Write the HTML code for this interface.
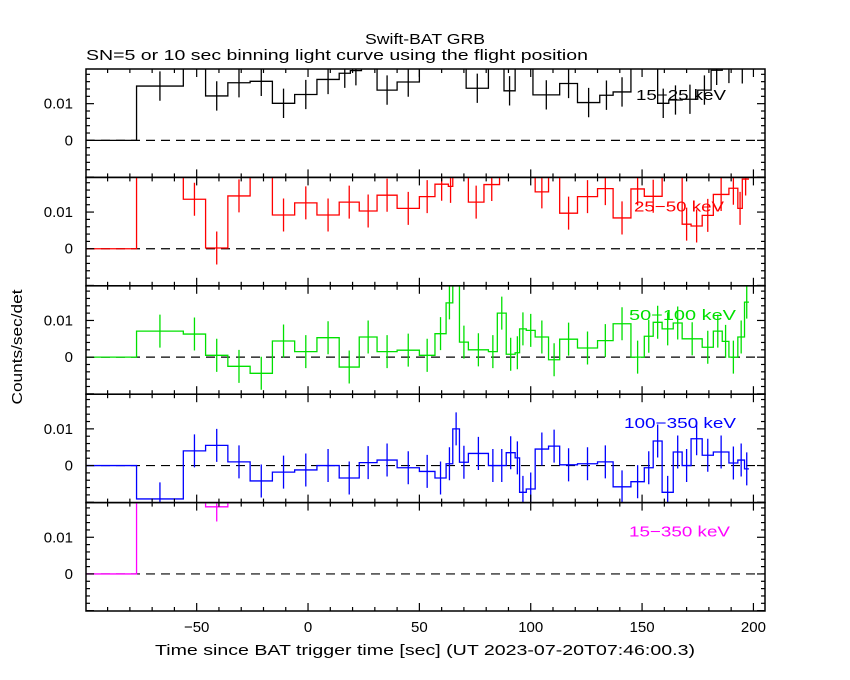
<!DOCTYPE html>
<html><head><meta charset="utf-8"><style>
body{margin:0;background:#fff;}
svg{display:block;font-family:"Liberation Sans",sans-serif;}
</style></head><body>
<svg id="chart" width="850" height="680" viewBox="0 0 850 680" xmlns="http://www.w3.org/2000/svg">
<text x="365" y="44" font-size="15" textLength="120" lengthAdjust="spacingAndGlyphs">Swift-BAT GRB</text>
<text x="86" y="60" font-size="15" textLength="502" lengthAdjust="spacingAndGlyphs">SN=5 or 10 sec binning light curve using the flight position</text>
<text x="155" y="655" font-size="15" textLength="540" lengthAdjust="spacingAndGlyphs">Time since BAT trigger time [sec] (UT 2023-07-20T07:46:00.3)</text>
<text x="0" y="0" font-size="15" text-anchor="middle" textLength="115" lengthAdjust="spacingAndGlyphs" transform="translate(22,347) rotate(-90)">Counts/sec/det</text>
<g id="plots"></g>
</svg>
<script>
// data (values in units of 0.001 counts/sec/det)
const bandLabels = ["15\u221225 keV","25\u221250 keV","50\u2212100 keV","100\u2212350 keV","15\u2212350 keV"];
const bandColors = ["#000000","#ff0000","#00e000","#0000ff","#ff00ff"];
const xTicks = [-50,0,50,100,150,200];
const yTickLabels = ["0.01","0"];
const edges1 = [-77,-56,-46,-36,-26,-16,-6,4,14,19,24,31,40,50,71,81,88,93,101,113,121,131,137,145,151,157,162,168,175,181,186,192,198];
const vals1 = [14.8,25,12.1,15.7,16.1,10.1,12.5,16.6,18.3,19,25,13.7,15.9,25,14.2,25,13.5,25,12.4,15.5,10.3,12.3,13.2,25,25,10.1,11,11.2,13.7,19.1,19.6,19.5];
const edges2 = [-77,-56,-46,-36,-26,-16,-6,4,14,23,31,40,50,57,63,65,72,79,86,93,102,108,113,121,130,137,145,151,159,168,172,177,182,189,193,195,198];
const vals2 = [25,13.5,0.2,14.4,25,9.2,12.5,9.2,12.7,10.3,14.6,11,14.2,17.6,17,25,12.7,17.5,25,25,15.5,25,9.7,14.2,16.4,8.4,16.3,14.3,25,6.7,6.2,9.1,14.8,16.5,11,19];
const edges3 = [-77,-56,-46,-36,-26,-16,-6,4,14,23,31,40,50,57,62,65,68,72,81,85,89,93,95,98,102,108,113,121,130,137,145,151,155,159,164,168,177,182,186,189,193,196,198];
const vals3 = [7.1,6.3,0.5,-2.5,-4.4,4.4,1.5,5.3,-2.7,5.5,1.5,1.9,0.5,6.4,14.8,25,4.1,2.0,1.5,12.0,0.8,1.2,7.7,7.3,5.5,-0.7,4.9,2.5,4.5,9.1,0,5.7,9.5,7.7,9.3,5.0,2.7,7.1,4.3,0,5.5,15.0];
const edges4 = [-77,-56,-46,-36,-26,-16,-6,4,14,23,31,40,50,57,62,65,68,72,81,85,89,93,95,98,102,108,113,121,130,137,145,151,155,159,164,168,172,177,182,189,193,196,198];
const vals4 = [-9.1,4.0,5.5,1.0,-4.2,-1.8,-1.2,0,-3.4,0.8,1.5,-0.6,-1.6,-3.4,0.5,10.0,0.9,3.3,0,0,3.5,2.1,-7.3,-6.4,4.5,5.3,0.2,0.5,1.0,-5.8,-4.4,-0.6,6.7,-7.3,3.7,0,7.3,2.8,3.7,0.7,1.5,-0.9];
const edges5 = [-77,-46,-36,-16,-6,4,24,198];
const vals5 = [25,18.3,25,25,25,25,25];
const errs = [4,4.5,4.5,4.5,4];
const series = [[edges1,vals1],[edges2,vals2],[edges3,vals3],[edges4,vals4],[edges5,vals5]];
const labelWidths = [90,90,107,112,101];
const labelX = [636,634,629,624,629];

const X0=86,X1=765,TMIN=-99.7,TMAX=205.2;
const TOP0=69,PH=108.4,YMIN=-10.1,YMAX=19.45;
const NS="http://www.w3.org/2000/svg";
function xs(t){return X0+(t-TMIN)/(TMAX-TMIN)*(X1-X0);}
function ys(i,v){return TOP0+i*PH+(YMAX-v)/(YMAX-YMIN)*PH;}
function mk(tag,attrs,parent){const e=document.createElementNS(NS,tag);for(const k in attrs)e.setAttribute(k,attrs[k]);parent.appendChild(e);return e;}
const root=document.getElementById('plots');
const defs=mk('defs',{},root);
for(let i=0;i<5;i++){
  const top=TOP0+i*PH,bot=top+PH;
  const cp=mk('clipPath',{id:'cp'+i},defs);
  mk('rect',{x:X0,y:top,width:X1-X0,height:PH},cp);
  const g=mk('g',{},root);
  
  
  const z=mk('line',{x1:X0,x2:X1,y1:ys(i,0),y2:ys(i,0),stroke:'#000','stroke-width':1.2,'stroke-dasharray':'9,6'},g);
  
  
  const [ed,vl]=series[i];
  const dg=mk('g',{'clip-path':'url(#cp'+i+')',stroke:bandColors[i],fill:'none','stroke-width':1.3},g);
  
  
  let d='M'+X0+','+ys(i,0)+' L'+xs(ed[0])+','+ys(i,0);
  for(let k=0;k<vl.length;k++){
    d+=' L'+xs(ed[k])+','+ys(i,vl[k])+' L'+xs(ed[k+1])+','+ys(i,vl[k]);
  }
  const p=mk('path',{d:d},dg);
  
  
  for(let k=0;k<vl.length;k++){
    const c=(ed[k]+ed[k+1])/2;
    const eb=mk('line',{x1:xs(c),x2:xs(c),y1:ys(i,vl[k]-errs[i]),y2:ys(i,vl[k]+errs[i])},dg);
    
    
  }
  const fr=mk('rect',{x:X0,y:top,width:X1-X0,height:PH,fill:'none',stroke:'#000','stroke-width':1.5},g);
  
  
  for(let t=-90;t<=200;t+=10){
    const L=(t%50===0)?8:4;
    mk('line',{x1:xs(t),x2:xs(t),y1:top,y2:top+L,stroke:'#000','stroke-width':1.2},g);
    mk('line',{x1:xs(t),x2:xs(t),y1:bot,y2:bot-L,stroke:'#000','stroke-width':1.2},g);
  }
  for(let v=-10;v<=18;v+=2){
    const L=(v%10===0)?8:4;
    mk('line',{x1:X0,x2:X0+L,y1:ys(i,v),y2:ys(i,v),stroke:'#000','stroke-width':1.2},g);
    mk('line',{x1:X1,x2:X1-L,y1:ys(i,v),y2:ys(i,v),stroke:'#000','stroke-width':1.2},g);
  }
  [10,0].forEach((v,j)=>{
    const tl=mk('text',{x:73,y:ys(i,v)+5,'font-size':15,'text-anchor':'end'},g);
    tl.textContent=yTickLabels[j];
    
    
  });
  const bl=mk('text',{x:labelX[i],y:top+34+(i===0?-3:0),'font-size':15,fill:bandColors[i],textLength:labelWidths[i],lengthAdjust:'spacingAndGlyphs'},g);
  bl.textContent=bandLabels[i];
  
  
}
xTicks.forEach(t=>{
  const tl=mk('text',{x:xs(t),y:632,'font-size':15,'text-anchor':'middle'},root);
  tl.textContent=(t<0?'\u2212'+(-t):''+t);
  
  
});
</script>
</body></html>
